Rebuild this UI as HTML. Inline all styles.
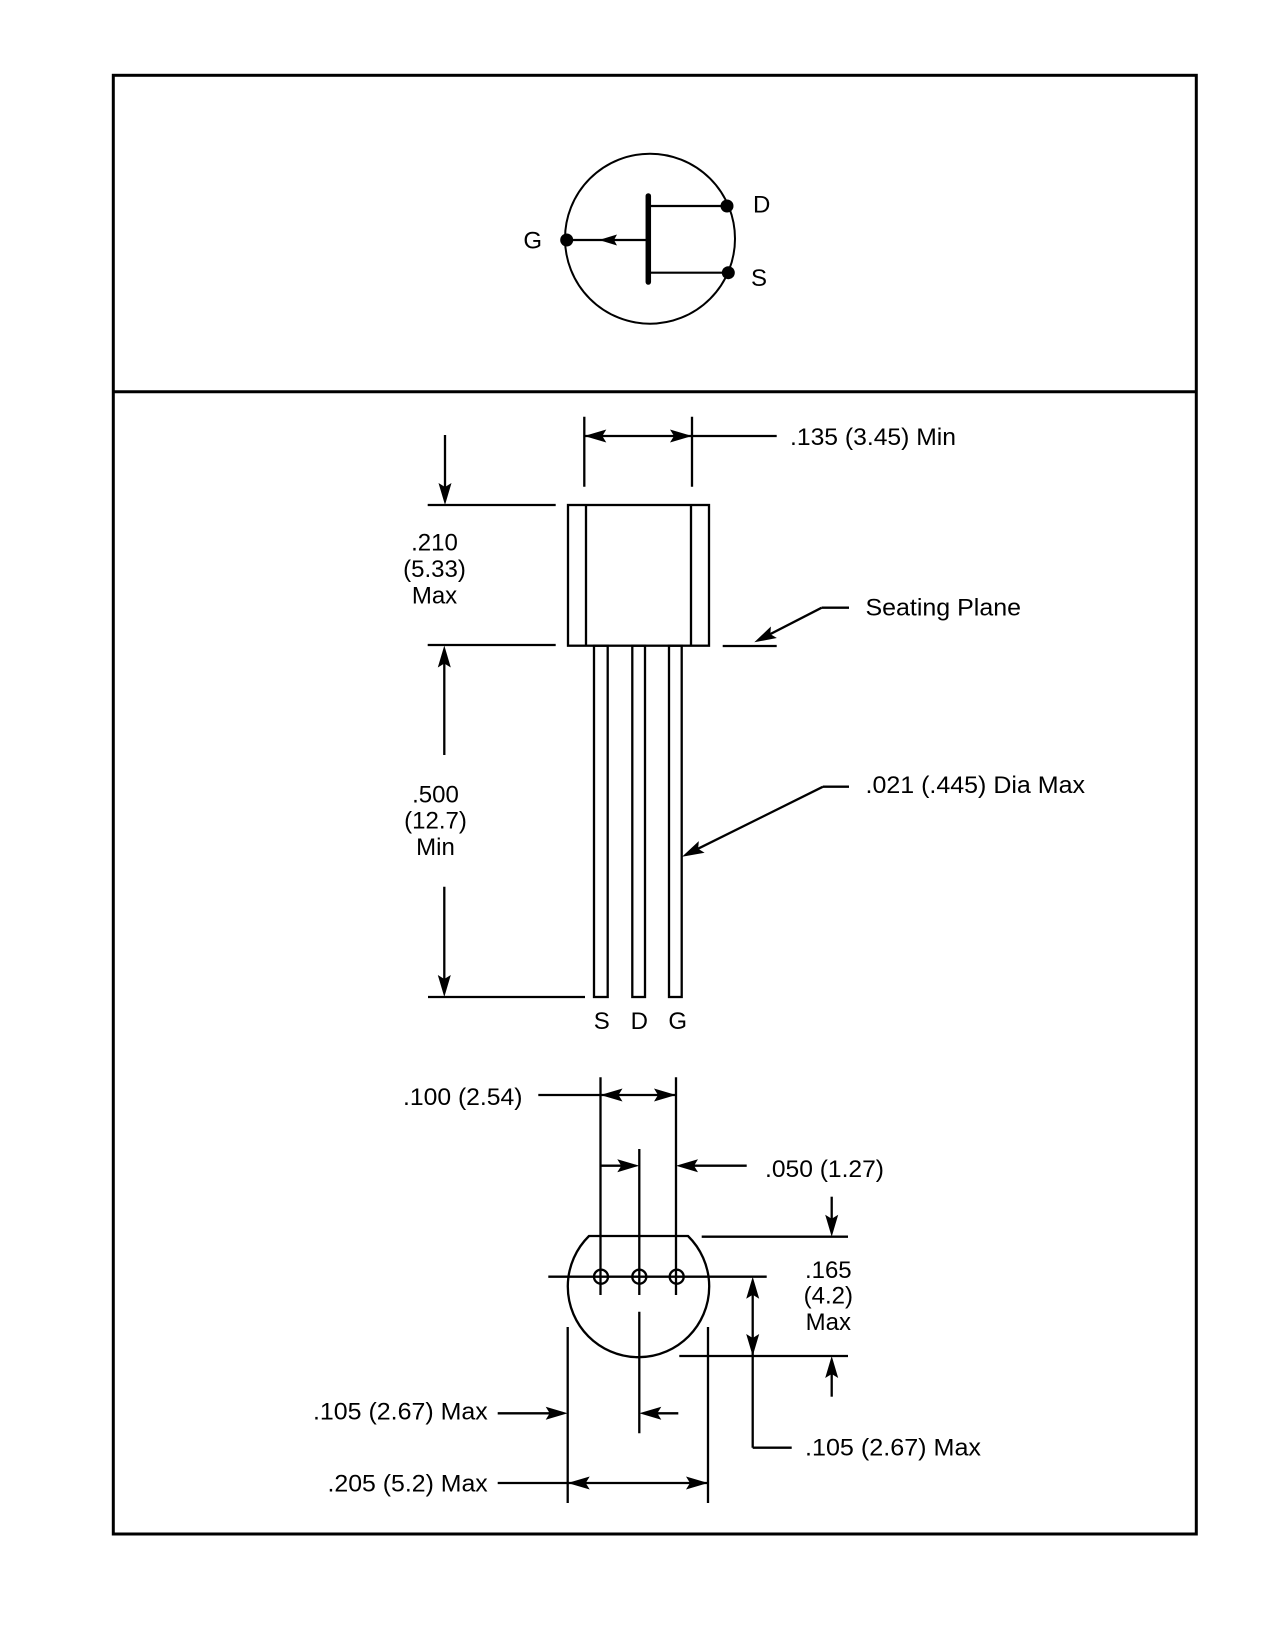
<!DOCTYPE html>
<html><head><meta charset="utf-8"><style>
html,body{margin:0;padding:0;background:#fff;}
svg{display:block;}
text{font-family:"Liberation Sans",Arial,sans-serif;font-size:24px;fill:#000;}
</style></head><body>
<svg width="1275" height="1650" viewBox="0 0 1275 1650" xmlns="http://www.w3.org/2000/svg">
<rect x="0" y="0" width="1275" height="1650" fill="#fff"/>
<!-- frame -->
<rect x="113.3" y="75.3" width="1083" height="1458.7" fill="none" stroke="#000" stroke-width="3"/>
<line x1="113" y1="391.7" x2="1196" y2="391.7" stroke="#000" stroke-width="3"/>

<!-- symbol -->
<g stroke="#000" fill="none">
<circle cx="650" cy="238.7" r="85" stroke-width="2"/>
<line x1="566" y1="240" x2="648" y2="240" stroke-width="2.2"/>
<line x1="648.3" y1="196" x2="648.3" y2="282" stroke-width="5.5" stroke-linecap="round"/>
<line x1="648" y1="206" x2="727" y2="206" stroke-width="2.2"/>
<line x1="648" y1="272.7" x2="728" y2="272.7" stroke-width="2.2"/>
</g>
<circle cx="566.7" cy="240" r="6.5" fill="#000"/>
<circle cx="727" cy="206" r="6.5" fill="#000"/>
<circle cx="728.3" cy="272.7" r="6.5" fill="#000"/>
<path d="M0,0 L-18,-5.5 L-15,0 L-18,5.5 Z" fill="#000" transform="translate(599,240) rotate(180)"/>
<text x="761.7" y="212.7" text-anchor="middle">D</text>
<text x="759" y="286" text-anchor="middle">S</text>
<text x="532.7" y="248.7" text-anchor="middle">G</text>

<!-- side view lines -->
<g stroke="#000" stroke-width="2.3" fill="none">
<line x1="584.3" y1="416.7" x2="584.3" y2="486.7"/>
<line x1="692" y1="416.7" x2="692" y2="486.7"/>
<line x1="584.3" y1="436" x2="776.7" y2="436"/>
<line x1="427.7" y1="505" x2="555.7" y2="505"/>
<line x1="445" y1="435" x2="445" y2="500"/>
<line x1="427.7" y1="645" x2="555.7" y2="645"/>
<rect x="568" y="505" width="141" height="140.7"/>
<line x1="586" y1="505" x2="586" y2="645.7"/>
<line x1="691" y1="505" x2="691" y2="645.7"/>
<rect x="594" y="645.7" width="13.7" height="351.3"/>
<rect x="632.3" y="645.7" width="12.7" height="351.3"/>
<rect x="669" y="645.7" width="12.7" height="351.3"/>
<line x1="444.3" y1="650" x2="444.3" y2="755"/>
<line x1="444.3" y1="886.7" x2="444.3" y2="992"/>
<line x1="428" y1="997" x2="585" y2="997"/>
<line x1="722.7" y1="646" x2="776.7" y2="646"/>
<line x1="821.7" y1="607.7" x2="758" y2="640.4"/>
<line x1="821.7" y1="607.7" x2="849" y2="607.7"/>
<line x1="823" y1="786.7" x2="686" y2="854.7"/>
<line x1="823" y1="786.7" x2="849" y2="786.7"/>
</g>

<!-- bottom view -->
<g stroke="#000" stroke-width="2.3" fill="none">
<path d="M589,1236 L688,1236 A70.7,70.7 0 1 1 589,1236 Z"/>
<line x1="548.3" y1="1276.7" x2="766.7" y2="1276.7"/>
<circle cx="601" cy="1276.7" r="7"/>
<circle cx="639.3" cy="1276.7" r="7"/>
<circle cx="676.7" cy="1276.7" r="7"/>
<line x1="600.5" y1="1077.3" x2="600.5" y2="1295"/>
<line x1="676" y1="1077.3" x2="676" y2="1295"/>
<line x1="639.3" y1="1149" x2="639.3" y2="1295"/>
<line x1="639.3" y1="1311.7" x2="639.3" y2="1433.3"/>
<line x1="567.7" y1="1327" x2="567.7" y2="1503"/>
<line x1="708" y1="1327" x2="708" y2="1503"/>
<line x1="538.3" y1="1095" x2="676" y2="1095"/>
<line x1="600.5" y1="1165.7" x2="635" y2="1165.7"/>
<line x1="680" y1="1165.7" x2="746.7" y2="1165.7"/>
<line x1="831.7" y1="1196.7" x2="831.7" y2="1232"/>
<line x1="701.7" y1="1236.7" x2="848" y2="1236.7"/>
<line x1="752.7" y1="1281" x2="752.7" y2="1447.7"/>
<line x1="752.7" y1="1447.7" x2="791.7" y2="1447.7"/>
<line x1="679.3" y1="1356" x2="848" y2="1356"/>
<line x1="831.7" y1="1360" x2="831.7" y2="1396.7"/>
<line x1="497.7" y1="1413.3" x2="563" y2="1413.3"/>
<line x1="644" y1="1413.3" x2="678.3" y2="1413.3"/>
<line x1="497.7" y1="1483" x2="708" y2="1483"/>
</g>

<!-- arrowheads -->
<g fill="#000">
<path d="M0,0 L-22,-6.5 L-18,0 L-22,6.5 Z" transform="translate(584.3,436) rotate(180)"/>
<path d="M0,0 L-22,-6.5 L-18,0 L-22,6.5 Z" transform="translate(692,436) rotate(0)"/>
<path d="M0,0 L-22,-6.5 L-18,0 L-22,6.5 Z" transform="translate(445,505) rotate(90)"/>
<path d="M0,0 L-22,-6.5 L-18,0 L-22,6.5 Z" transform="translate(444.3,645.5) rotate(270)"/>
<path d="M0,0 L-22,-6.5 L-18,0 L-22,6.5 Z" transform="translate(444.3,997) rotate(90)"/>
<path d="M0,0 L-22,-6.5 L-18,0 L-22,6.5 Z" transform="translate(754.3,642.3) rotate(152.8)"/>
<path d="M0,0 L-22,-6.5 L-18,0 L-22,6.5 Z" transform="translate(682,856.7) rotate(153.6)"/>
<path d="M0,0 L-22,-6.5 L-18,0 L-22,6.5 Z" transform="translate(600.5,1095) rotate(180)"/>
<path d="M0,0 L-22,-6.5 L-18,0 L-22,6.5 Z" transform="translate(676,1095) rotate(0)"/>
<path d="M0,0 L-22,-6.5 L-18,0 L-22,6.5 Z" transform="translate(639.3,1165.7) rotate(0)"/>
<path d="M0,0 L-22,-6.5 L-18,0 L-22,6.5 Z" transform="translate(676,1165.7) rotate(180)"/>
<path d="M0,0 L-22,-6.5 L-18,0 L-22,6.5 Z" transform="translate(831.7,1236.7) rotate(90)"/>
<path d="M0,0 L-22,-6.5 L-18,0 L-22,6.5 Z" transform="translate(752.7,1276.7) rotate(270)"/>
<path d="M0,0 L-22,-6.5 L-18,0 L-22,6.5 Z" transform="translate(752.7,1356) rotate(90)"/>
<path d="M0,0 L-22,-6.5 L-18,0 L-22,6.5 Z" transform="translate(831.7,1356) rotate(270)"/>
<path d="M0,0 L-22,-6.5 L-18,0 L-22,6.5 Z" transform="translate(567.7,1413.3) rotate(0)"/>
<path d="M0,0 L-22,-6.5 L-18,0 L-22,6.5 Z" transform="translate(639.3,1413.3) rotate(180)"/>
<path d="M0,0 L-22,-6.5 L-18,0 L-22,6.5 Z" transform="translate(567.7,1483) rotate(180)"/>
<path d="M0,0 L-22,-6.5 L-18,0 L-22,6.5 Z" transform="translate(708,1483) rotate(0)"/>
</g>

<!-- labels -->
<text x="790" y="445" textLength="166" lengthAdjust="spacingAndGlyphs">.135 (3.45) Min</text>
<text x="434.5" y="550.5" text-anchor="middle">.210</text>
<text x="434.5" y="577" text-anchor="middle">(5.33)</text>
<text x="434.5" y="603.5" text-anchor="middle">Max</text>
<text x="865.5" y="615.5" textLength="155.5" lengthAdjust="spacingAndGlyphs">Seating Plane</text>
<text x="865.5" y="793" textLength="219.5" lengthAdjust="spacingAndGlyphs">.021 (.445) Dia Max</text>
<text x="435.5" y="802.7" text-anchor="middle">.500</text>
<text x="435.5" y="828.3" text-anchor="middle">(12.7)</text>
<text x="435.5" y="855" text-anchor="middle">Min</text>
<text x="601.7" y="1029" text-anchor="middle">S</text>
<text x="639.3" y="1029" text-anchor="middle">D</text>
<text x="677.7" y="1029" text-anchor="middle">G</text>
<text x="403" y="1105" textLength="119.5" lengthAdjust="spacingAndGlyphs">.100 (2.54)</text>
<text x="765" y="1177" textLength="119" lengthAdjust="spacingAndGlyphs">.050 (1.27)</text>
<text x="828.3" y="1278.2" text-anchor="middle">.165</text>
<text x="828.3" y="1303.5" text-anchor="middle">(4.2)</text>
<text x="828.3" y="1330" text-anchor="middle">Max</text>
<text x="313" y="1419.3" textLength="174.7" lengthAdjust="spacingAndGlyphs">.105 (2.67) Max</text>
<text x="805" y="1455.5" textLength="176" lengthAdjust="spacingAndGlyphs">.105 (2.67) Max</text>
<text x="327.5" y="1491.7" textLength="160.2" lengthAdjust="spacingAndGlyphs">.205 (5.2) Max</text>
</svg>
</body></html>
